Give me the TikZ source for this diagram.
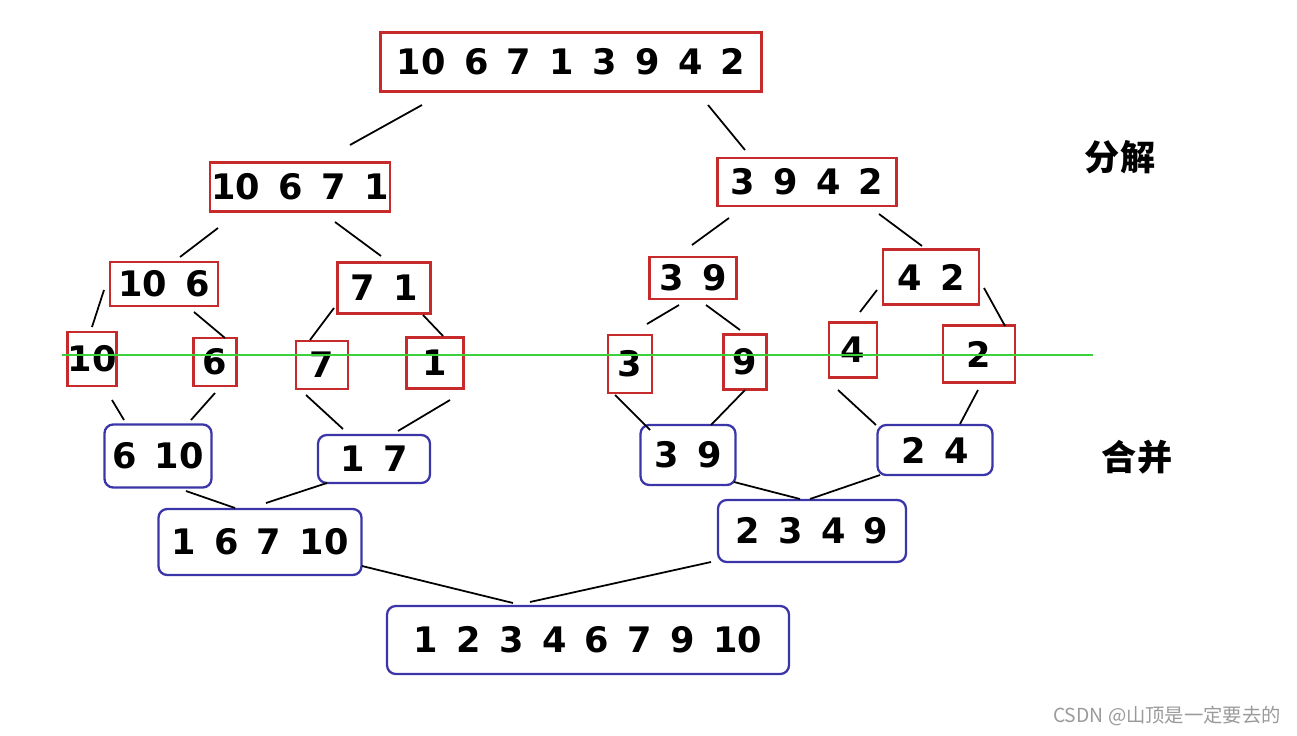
\documentclass[tikz,border=0pt]{standalone}
\usepackage{fontspec}
\setmainfont{DejaVu Sans}[WordSpace=1.5]
\newfontfamily\cjk{Noto Sans CJK SC}
\usetikzlibrary{calc}
\definecolor{cRed}{HTML}{C62A2A}
\definecolor{cBlue}{HTML}{3A35A8}
\definecolor{cGreen}{HTML}{3CD23C}
\definecolor{cMark}{HTML}{9A9A9A}
\tikzset{
  px/.style 2 args={minimum width=#1*0.02cm,minimum height=#2*0.02cm},
  part/.style={draw=cRed,line width=1.3pt,inner sep=0pt,font=\fontsize{20}{24}\selectfont\bfseries},
  sorted/.style={part,draw=cBlue,rounded corners=5pt},
  link/.style={line width=1pt,black},
  cut/.style={cGreen,line width=0.9pt},
  tag/.style={font=\cjk\fontsize{20}{24}\selectfont\bfseries},
}

\begin{document}
\begin{tikzpicture}[x=0.02cm,y=-0.02cm]
  \useasboundingbox (0,0) rectangle (1297,736);
  % splitting
  \node[part,px={381}{59}] (top) at (571,62) {10 6 7 1 3 9 4 2};
  \node[part,px={180}{49}] (a) at (300,187) {10 6 7 1};
  \node[part,px={179}{48}] (b) at (807,182) {3 9 4 2};
  \node[part,px={108}{44}] (aa) at (164,284) {10 6};
  \node[part,px={93}{51}] (ab) at (384,288) {7 1};
  \node[part,px={87}{42}] (ba) at (693,278) {3 9};
  \node[part,px={96}{55}] (bb) at (931,277) {4 2};
  \node[part,px={49}{54}] (l10) at (92,359) {10};
  \node[part,px={43}{48}] (l6) at (215,362) {6};
  \node[part,px={52}{48}] (l7) at (322,365) {7};
  \node[part,px={57}{51}] (l1) at (435,363) {1};
  \node[part,px={44}{58}] (l3) at (630,364) {3};
  \node[part,px={43}{55}] (l9) at (745,362) {9};
  \node[part,px={48}{55}] (l4) at (853,350) {4};
  \node[part,px={72}{57}] (l2) at (979,354) {2};
  \coordinate (cutL) at (62,355);
  \coordinate (cutR) at (1093,355);
  \draw[cut] (cutL) -- (cutR);
  % merging
  \node[sorted,px={107}{63}] (m1) at (158,456) {6 10};
  \node[sorted,px={112}{48}] (m2) at (374,459) {1 7};
  \node[sorted,px={95}{60}] (m3) at (688,455) {3 9};
  \node[sorted,px={115}{50}] (m4) at (935,450) {2 4};
  \node[sorted,px={203}{66}] (n1) at (260,542) {1 6 7 10};
  \node[sorted,px={188}{62}] (n2) at (812,531) {2 3 4 9};
  \node[sorted,px={402}{68}] (fin) at (588,640) {1 2 3 4 6 7 9 10};
  % labels
  \node[tag] (split) at (1120,157) {分解};
  \node[tag] (merge) at (1137,457) {合并};
  \node[font=\cjk\fontsize{11}{13}\selectfont,text=cMark] (mark) at (1167,716) {CSDN @山顶是一定要去的};
  % connectors
  \draw[link] ($(top)+(-149,43)$) -- ($(a)+(50,-42)$);
  \draw[link] ($(top)+(137,43)$) -- ($(b)+(-62,-32)$);
  \draw[link] ($(a)+(-82,41)$) -- ($(aa)+(16,-27)$);
  \draw[link] ($(a)+(35,35)$) -- ($(ab)+(-3,-32)$);
  \draw[link] ($(aa)+(-60,6)$) -- ($(l10)+(0,-32)$);
  \draw[link] ($(aa)+(30,28)$) -- ($(l6)+(10,-24)$);
  \draw[link] ($(ab)+(-50,20)$) -- ($(l7)+(-12,-25)$);
  \draw[link] ($(ab)+(39,27)$) -- ($(l1)+(8,-27)$);
  \draw[link] ($(b)+(-78,36)$) -- ($(ba)+(-1,-33)$);
  \draw[link] ($(b)+(72,32)$) -- ($(bb)+(-9,-31)$);
  \draw[link] ($(ba)+(-14,27)$) -- ($(l3)+(17,-40)$);
  \draw[link] ($(ba)+(13,27)$) -- ($(l9)+(-5,-32)$);
  \draw[link] ($(bb)+(-54,13)$) -- ($(l4)+(7,-38)$);
  \draw[link] ($(bb)+(53,11)$) -- ($(l2)+(26,-28)$);
  \draw[link] ($(l10)+(20,41)$) -- ($(m1)+(-34,-36)$);
  \draw[link] ($(l6)+(0,31)$) -- ($(m1)+(33,-36)$);
  \draw[link] ($(l7)+(-16,30)$) -- ($(m2)+(-31,-30)$);
  \draw[link] ($(l1)+(15,37)$) -- ($(m2)+(24,-28)$);
  \draw[link] ($(l3)+(-15,31)$) -- ($(m3)+(-38,-25)$);
  \draw[link] ($(l9)+(0,28)$) -- ($(m3)+(23,-30)$);
  \draw[link] ($(l4)+(-15,40)$) -- ($(m4)+(-59,-25)$);
  \draw[link] ($(l2)+(-1,36)$) -- ($(m4)+(25,-26)$);
  \draw[link] ($(m1)+(28,35)$) -- ($(n1)+(-25,-34)$);
  \draw[link] ($(m2)+(-47,24)$) -- ($(n1)+(6,-39)$);
  \draw[link] ($(m3)+(46,27)$) -- ($(n2)+(-12,-32)$);
  \draw[link] ($(m4)+(-55,25)$) -- ($(n2)+(-2,-32)$);
  \draw[link] ($(n1)+(102,24)$) -- ($(fin)+(-75,-37)$);
  \draw[link] ($(n2)+(-101,31)$) -- ($(fin)+(-58,-38)$);
\end{tikzpicture}
\end{document}
